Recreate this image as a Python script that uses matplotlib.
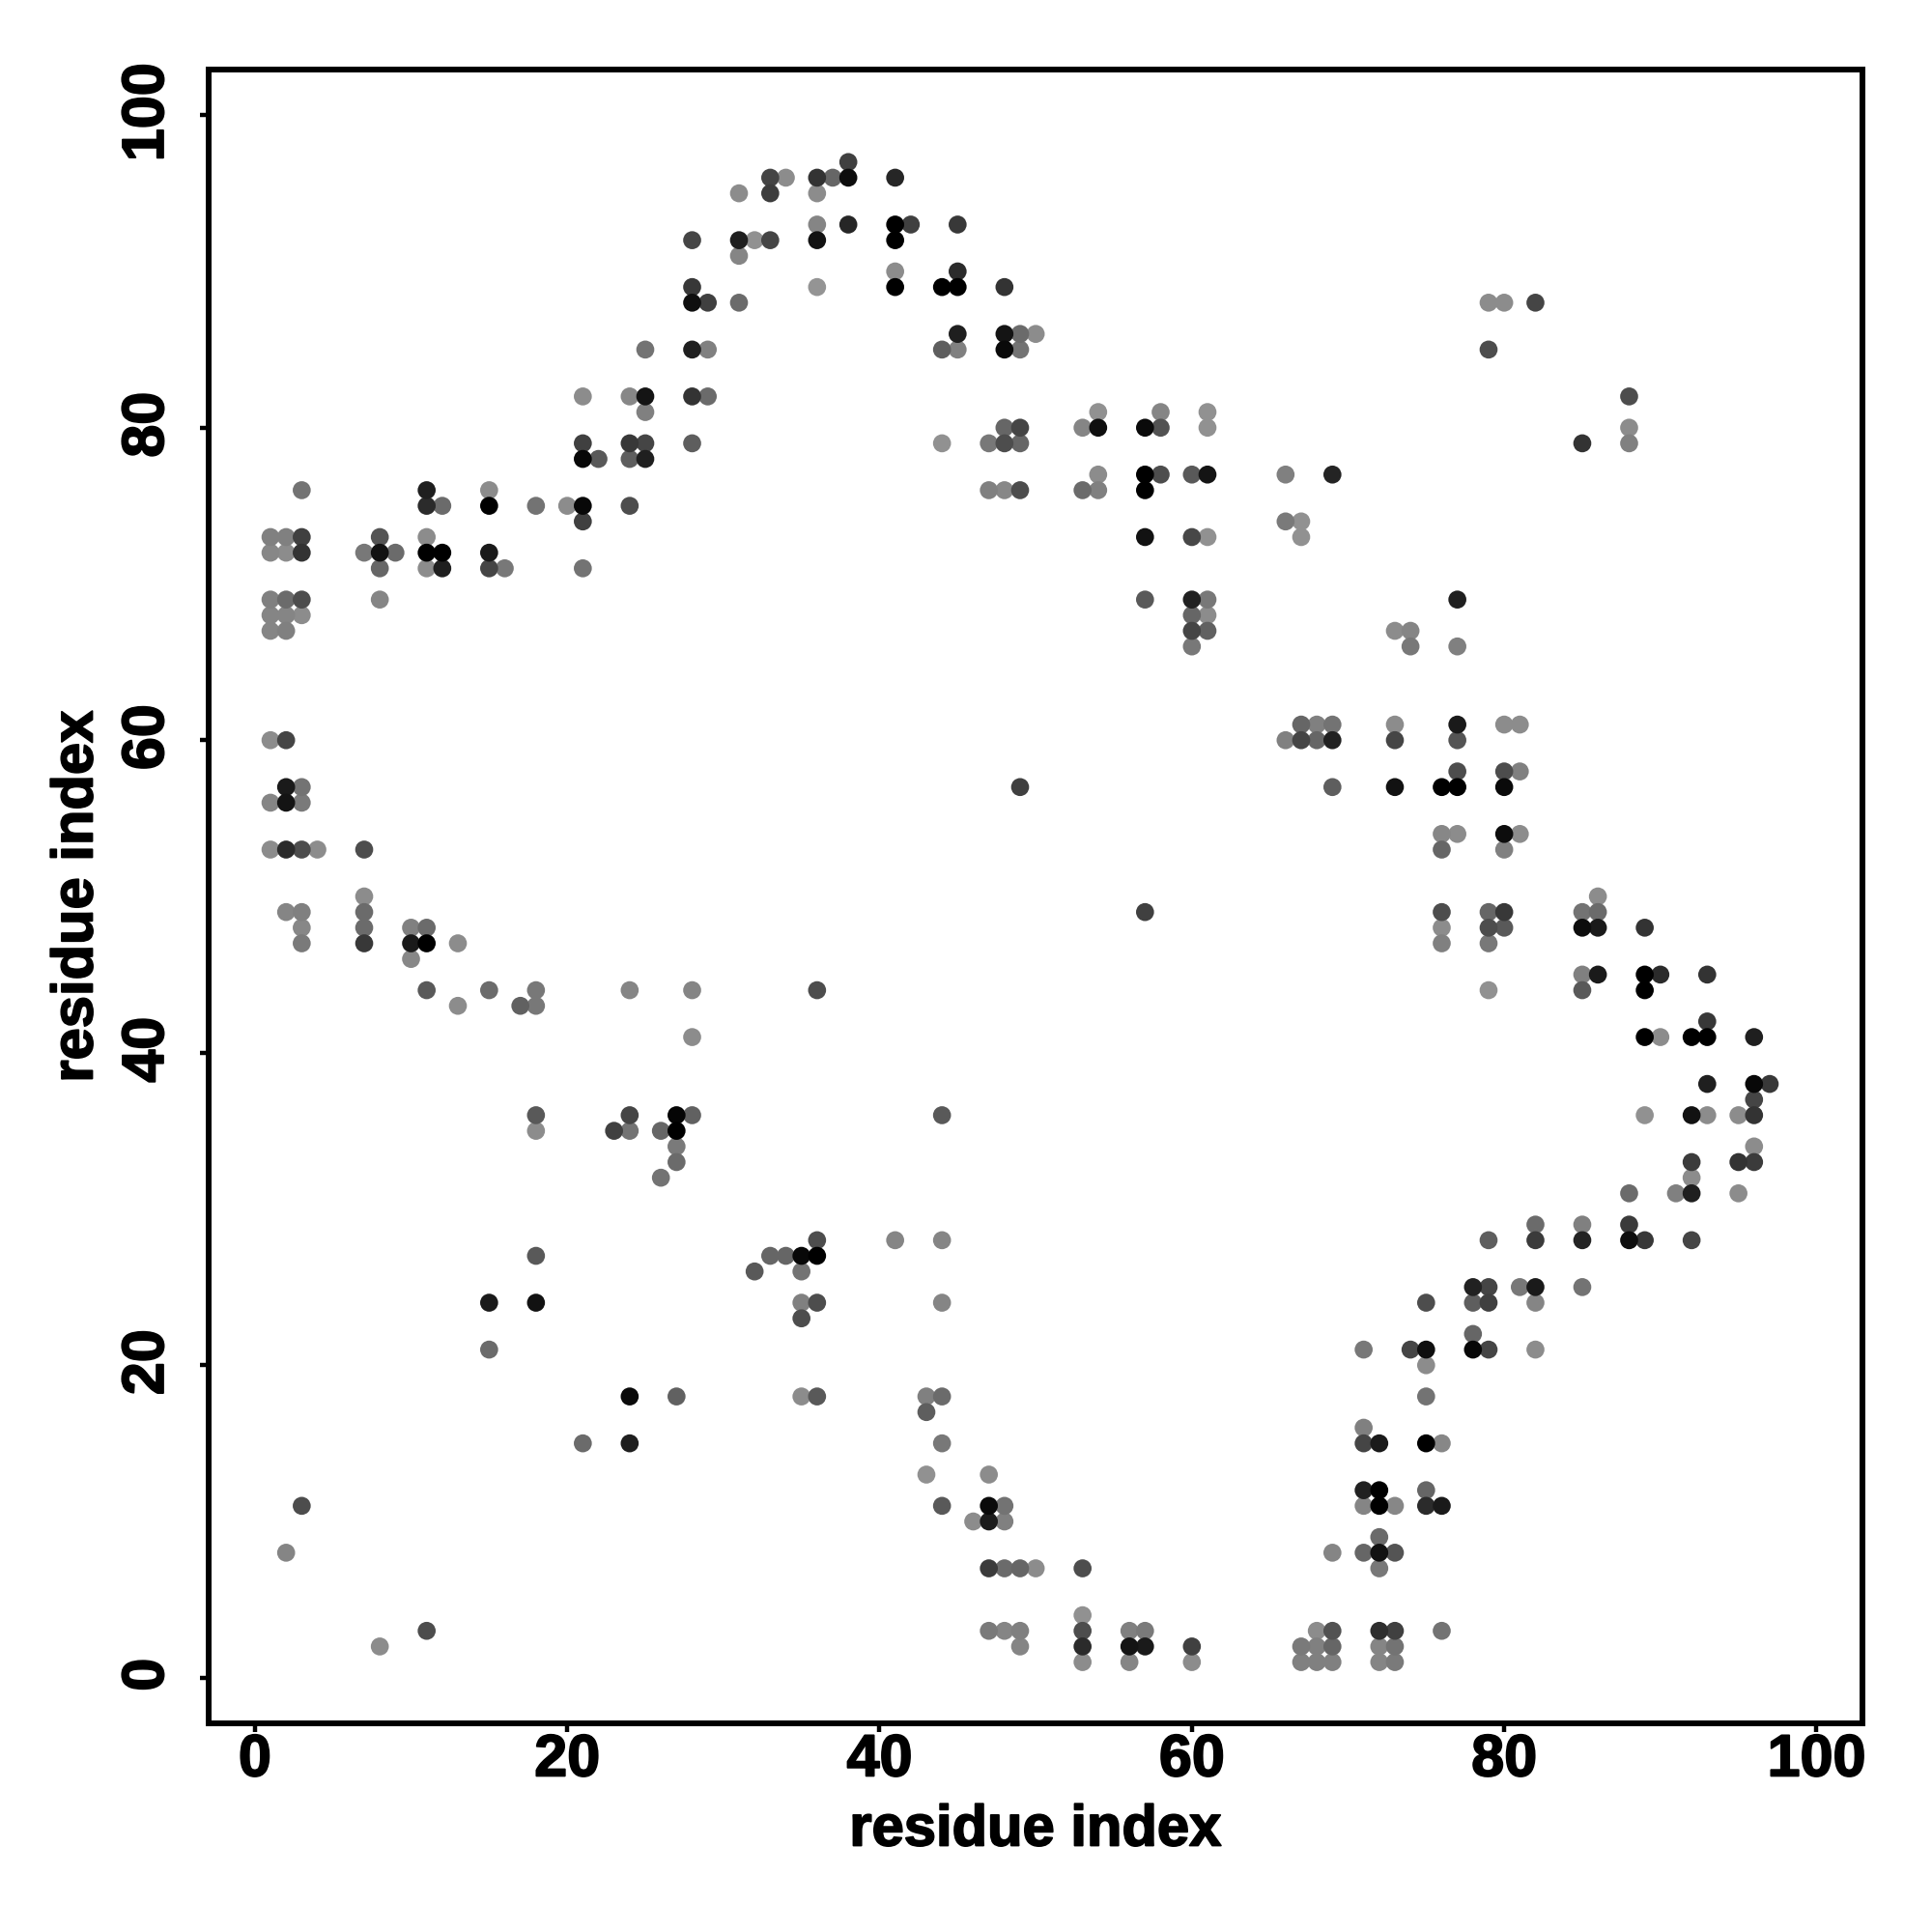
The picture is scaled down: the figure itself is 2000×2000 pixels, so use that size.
"""residue contact map, points shaded by strength"""

import numpy as np
import matplotlib
matplotlib.use('Agg')
import matplotlib.pyplot as plt
import matplotlib.patheffects as pe
from matplotlib.transforms import ScaledTranslation

# one entry per row of the map, top to bottom
row_y = [97, 96, 95, 93, 92, 91, 90, 89, 88, 86, 85, 82, 81, 80, 79, 78, 77, 76, 75, 74, 73, 72, 71,
         69, 68, 67, 66, 61, 60, 58, 57, 56, 54, 53, 50, 49, 48, 47, 46, 45, 44, 43, 42, 41,
         38, 37, 36, 35, 34, 33, 32, 31, 29, 28, 27, 26, 25, 24, 23, 22, 21, 20,
         18, 17, 16, 15, 13, 12, 11, 10, 9, 8, 7, 4, 3, 2, 1]

row_x = [
    [38],
    [33, 34, 36, 37, 38, 41],
    [31, 33, 36],
    [36, 38, 41, 42, 45],
    [28, 31, 32, 33, 36, 41],
    [31],
    [41, 45],
    [28, 36, 41, 44, 45, 48],
    [28, 29, 31, 79, 80, 82],
    [45, 48, 49, 50],
    [25, 28, 29, 44, 45, 48, 49, 79],
    [21, 24, 25, 28, 29, 88],
    [25, 54, 58, 61],
    [48, 49, 53, 54, 57, 58, 61, 88],
    [21, 24, 25, 28, 44, 47, 48, 49, 85, 88],
    [21, 22, 24, 25],
    [54, 57, 58, 60, 61, 66, 69],
    [3, 11, 15, 47, 48, 49, 53, 54, 57],
    [11, 12, 15, 18, 20, 21, 24],
    [21, 66, 67],
    [1, 2, 3, 8, 11, 57, 60, 61, 67],
    [1, 2, 3, 7, 8, 9, 11, 12, 15],
    [8, 11, 12, 15, 16, 21],
    [1, 2, 3, 8, 57, 60, 61, 77],
    [1, 2, 3, 60, 61],
    [1, 2, 60, 61, 73, 74],
    [60, 74, 77],
    [67, 68, 69, 73, 77, 80, 81],
    [1, 2, 66, 67, 68, 69, 73, 77],
    [77, 80, 81],
    [2, 3, 49, 69, 73, 76, 77, 80],
    [1, 2, 3],
    [76, 77, 80, 81],
    [1, 2, 3, 4, 7, 76, 80],
    [7, 86],
    [2, 3, 7, 57, 76, 79, 80, 85, 86],
    [3, 7, 10, 11, 76, 79, 80, 85, 86, 89],
    [3, 7, 10, 11, 13, 76, 79],
    [10],
    [85, 86, 89, 90, 93],
    [11, 15, 18, 24, 28, 36, 79, 85, 89],
    [13, 17, 18],
    [93],
    [28, 89, 90, 92, 93, 96],
    [93, 96, 97],
    [96],
    [18, 24, 27, 28, 44, 89, 92, 93, 95, 96],
    [18, 23, 24, 26, 27],
    [27, 96],
    [27, 92, 95, 96],
    [26, 92],
    [88, 91, 92, 95],
    [82, 85, 88],
    [36, 41, 44, 79, 82, 85, 88, 89, 92],
    [18, 33, 34, 35, 36],
    [32, 35],
    [78, 79, 81, 82, 85],
    [15, 18, 35, 36, 44, 75, 78, 79, 82],
    [35],
    [78],
    [15, 71, 74, 75, 78, 79, 82],
    [75],
    [24, 27, 35, 36, 43, 44, 75],
    [43],
    [71],
    [21, 24, 44, 71, 72, 75, 76],
    [43, 47],
    [71, 72, 75],
    [3, 44, 47, 48, 71, 72, 73, 75, 76],
    [46, 47, 48],
    [72],
    [2, 69, 71, 72, 73],
    [47, 48, 49, 50, 53, 72],
    [53],
    [11, 47, 48, 49, 53, 56, 57, 68, 69, 72, 73, 76],
    [8, 49, 53, 56, 57, 60, 67, 68, 69, 72, 73],
    [53, 56, 60, 67, 68, 69, 72, 73],
]

# gray level of each point, 0 is black
row_gray = [
    [.25],
    [.27, .55, .2, .4, .05, .15],
    [.55, .24, .55],
    [.52, .15, 0, .25, .22],
    [.27, .12, .57, .27, .07, 0],
    [.52],
    [.55, .17],
    [.22, .58, 0, 0, 0, .2],
    [.06, .25, .42, .55, .55, .27],
    [.12, .08, .42, .55],
    [.45, .12, .5, .37, .5, .04, .45, .3],
    [.55, .53, .08, .2, .42, .3],
    [.5, .57, .52, .57],
    [.4, .27, .52, .06, .04, .32, .57, .55],
    [.25, .22, .27, .37, .57, .47, .3, .4, .2, .5],
    [.03, .35, .37, .12],
    [.55, 0, .3, .35, .08, .5, .14],
    [.45, .12, .55, .5, .53, .3, .42, .5, 0],
    [.17, .42, 0, .45, .55, .03, .3],
    [.25, .48, .57],
    [.5, .5, .25, .33, .55, .07, .28, .57, .57],
    [.53, .55, .2, .47, .07, .42, 0, 0, .1],
    [.4, .55, .12, .27, .47, .45],
    [.5, .42, .3, .52, .35, .13, .47, .12],
    [.52, .52, .55, .4, .55],
    [.52, .5, .27, .38, .55, .52],
    [.47, .47, .5],
    [.4, .5, .45, .55, .1, .55, .55],
    [.55, .27, .5, .27, .4, .13, .27, .33],
    [.3, .3, .5],
    [.1, .45, .25, .37, .07, 0, 0, .04],
    [.52, .08, .48],
    [.53, .55, .05, .55],
    [.55, .17, .3, .55, .3, .4, .5],
    [.55, .55],
    [.52, .5, .42, .25, .3, .4, .22, .45, .42],
    [.53, .42, .5, .42, .55, .3, .35, .05, .1, .2],
    [.48, .22, .1, 0, .55, .5, .47],
    [.53],
    [.5, .1, 0, .17, .2],
    [.35, .42, .47, .52, .52, .3, .57, .35, 0],
    [.55, .38, .47],
    [.22],
    [.55, 0, .55, 0, 0, .12],
    [.12, .03, .22],
    [.27],
    [.35, .27, .02, .38, .35, .57, .07, .55, .55, .2],
    [.55, .25, .45, .4, 0],
    [.48, .55],
    [.42, .23, .2, .23],
    [.45, .55],
    [.42, .5, .12, .55],
    [.42, .5, .23],
    [.3, .52, .52, .37, .23, .14, .06, .22, .27],
    [.35, .4, .4, .03, 0],
    [.35, .45],
    [.13, .27, .47, .1, .45],
    [.1, .07, .5, .3, .52, .3, .37, .25, .52],
    [.3],
    [.4],
    [.42, .47, .27, .06, .03, .27, .55],
    [.55],
    [.04, .38, .55, .35, .5, .42, .45],
    [.37],
    [.5],
    [.42, .12, .47, .27, .1, 0, .53],
    [.57, .55],
    [.13, 0, .4],
    [.3, .35, .04, .45, .52, 0, .53, .17, .1],
    [.55, .11, .5],
    [.42],
    [.52, .52, .4, .07, .33],
    [.23, .42, .4, .55, .3, .47],
    [.57],
    [.3, .48, .52, .5, .3, .5, .48, .55, .32, .18, .25, .45],
    [.55, .52, .17, .08, .1, .25, .48, .5, .4, .52, .45],
    [.55, .52, .55, .5, .5, .5, .52, .48],
]

x_ticks = [0, 20, 40, 60, 80, 100]
y_ticks = [0, 20, 40, 60, 80, 100]
x_label = 'residue index'
y_label = 'residue index'

plt.rcParams['font.family'] = ['Liberation Sans', 'DejaVu Sans']
plt.rcParams['font.weight'] = 'bold'

if __name__ == '__main__':

    xs = np.concatenate([np.array(r, dtype=float) for r in row_x])
    ys = np.concatenate([np.full(len(r), yy, dtype=float) for r, yy in zip(row_x, row_y)])
    grays = np.concatenate([np.array(g, dtype=float) for g in row_gray])

    # darker points go on top
    order = np.argsort(-grays, kind='stable')

    fig = plt.figure(figsize=(20, 20), dpi=100)
    ax = fig.add_axes([216 / 2000., 1 - 1784 / 2000., (1928 - 216) / 2000., (1784 - 72) / 2000.])
    ax.scatter(xs[order], ys[order], c=[str(g) for g in grays[order]], s=180, linewidths=0, zorder=3)

    ax.set_xlim(-2.96, 102.94)
    ax.set_ylim(-2.92, 102.92)
    ax.set_xticks(x_ticks)
    ax.set_yticks(y_ticks)
    ax.tick_params(axis='both', length=6.5, width=3.2, labelsize=44)
    ax.tick_params(axis='x', pad=1)
    ax.tick_params(axis='y', pad=18)

    # original text is heavier than Liberation bold, thicken it a little
    heavy = [pe.withStroke(linewidth=1.3, foreground='black')]
    shift_up = ScaledTranslation(0, 3 / 100., fig.dpi_scale_trans)
    for lab in ax.get_yticklabels():
        lab.set_rotation(90)
        lab.set_verticalalignment('center')
        lab.set_transform(lab.get_transform() + shift_up)
        lab.set_path_effects(heavy)
    for lab in ax.get_xticklabels():
        lab.set_path_effects(heavy)
    for spine in ax.spines.values():
        spine.set_linewidth(4.3)

    # axis labels placed by figure position, like the original margins
    fig.text((216 + 1928) / 2 / 2000., 1 - 1895 / 2000., x_label, fontsize=43, fontweight='bold',
             ha='center', va='center', path_effects=heavy)
    fig.text(80 / 2000., 1 - (72 + 1784) / 2 / 2000., y_label, fontsize=43, fontweight='bold',
             rotation=90, ha='center', va='center', path_effects=heavy)

    fig.savefig('out.png', dpi=100, facecolor='white')
